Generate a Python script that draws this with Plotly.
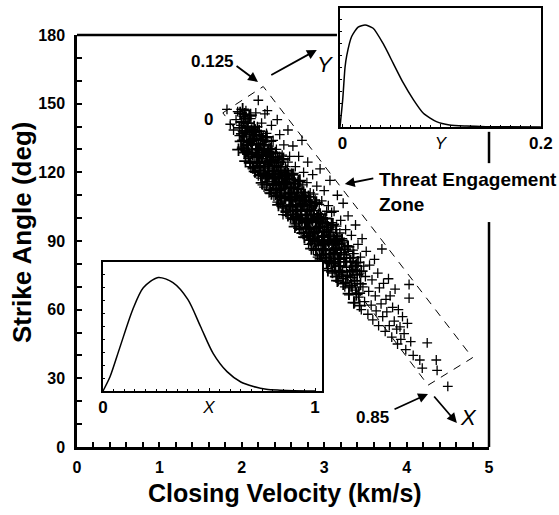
import plotly.graph_objects as go

# ---------------- data ----------------
# individually readable crosses (sparser outer part of the cloud)
closing_velocity = [
    1.82, 1.86, 1.90, 1.93, 1.95, 1.97, 1.99, 2.00, 2.02, 2.03,
    2.05, 2.06, 2.07, 2.08, 2.09, 2.10, 2.11, 2.12, 2.13, 2.14, 2.15, 2.16, 2.17, 2.18, 2.19,
    2.20, 2.20, 2.21, 2.22, 2.23, 2.24, 2.25, 2.25, 2.26, 2.27, 2.28, 2.29, 2.30, 2.31, 2.31, 2.32, 2.33,
    2.34, 2.35, 2.36, 2.37, 2.38, 2.39, 2.40, 2.41, 2.42, 2.43, 2.44, 2.45, 2.46, 2.47, 2.48, 2.49,
    2.50, 2.50, 2.51, 2.52, 2.53, 2.54, 2.55, 2.56, 2.57, 2.58, 2.59, 2.60, 2.61, 2.62, 2.63, 2.64,
    2.65, 2.66, 2.67, 2.68, 2.69, 2.70, 2.71, 2.72, 2.73, 2.74, 2.75, 2.76, 2.77, 2.78, 2.79, 2.80,
    2.81, 2.82, 2.83, 2.84, 2.85, 2.86, 2.87, 2.88, 2.89, 2.90, 2.91, 2.92, 2.93, 2.94, 2.95,
    2.96, 2.97, 2.98, 2.99, 3.00, 3.01, 3.02, 3.03, 3.04, 3.05, 3.06, 3.07, 3.08, 3.09, 3.10,
    3.11, 3.12, 3.13, 3.14, 3.15, 3.16, 3.17, 3.18, 3.19, 3.20, 3.21, 3.22, 3.23, 3.24, 3.25, 3.26, 3.27, 3.28, 3.29,
    3.30, 3.31, 3.32, 3.33, 3.34, 3.35, 3.36, 3.37, 3.38, 3.39, 3.40, 3.41, 3.42, 3.43, 3.44, 3.45, 3.46, 3.47, 3.48, 3.49,
    3.50, 3.51, 3.53, 3.54, 3.55, 3.57, 3.58, 3.59, 3.61, 3.62, 3.63, 3.65, 3.66, 3.67, 3.69, 3.70,
    3.71, 3.72, 3.74, 3.75, 3.76, 3.78, 3.79, 3.80, 3.82, 3.83, 3.85, 3.86, 3.88, 3.89, 3.90, 3.92, 3.93, 3.95,
    3.97, 3.99, 4.01, 4.03, 4.03, 4.05, 4.08, 4.16, 4.19, 4.25, 4.36, 4.37, 4.50,
    2.01, 2.04, 2.06, 2.08, 2.10, 2.11, 2.13, 2.15, 2.16, 2.18, 2.19, 2.21,
    2.22, 2.23, 2.24, 2.26, 2.27, 2.28, 2.30, 2.31, 2.33, 2.34, 2.36, 2.37, 2.38, 2.39,
    2.41, 2.42, 2.43, 2.45, 2.46, 2.47, 2.49, 2.50, 2.52, 2.53, 2.55, 2.56, 2.58, 2.59, 2.61,
    2.62, 2.63, 2.65, 2.66, 2.68, 2.69, 2.70, 2.72, 2.73, 2.74, 2.76, 2.77, 2.79, 2.80,
    2.82, 2.83, 2.85, 2.86, 2.87, 2.89, 2.90, 2.91, 2.93, 2.94, 2.96, 2.97, 2.99,
    3.00, 3.02, 3.03, 3.05, 3.06, 3.08, 3.09, 3.11, 3.13, 3.14, 3.16, 3.18, 3.19,
    3.21, 3.23, 3.24, 3.26, 3.28, 3.29, 3.31, 3.33, 3.35, 3.36, 3.38, 3.40,
]
strike_angle = [
    147.5, 141.0, 138.5, 143.0, 146.5, 136.0, 140.5, 131.0, 144.5, 135.5,
    147.0, 140.0, 128.5, 133.0, 137.5, 124.0, 143.5, 130.0, 121.5, 135.0, 127.0, 139.0, 146.0, 132.5, 124.5,
    151.5, 118.5, 129.5, 136.0, 122.0, 141.5, 126.0, 114.5, 132.0, 119.0, 145.5, 128.0, 137.0, 147.0, 116.0, 123.5, 131.5,
    112.0, 127.0, 140.5, 119.0, 134.0, 109.5, 124.0, 116.0, 130.0, 143.0, 112.5, 121.0, 136.5, 106.5, 118.0, 127.5,
    101.5, 114.0, 132.0, 108.5, 122.5, 104.0, 117.0, 138.5, 111.0, 127.0, 100.0, 119.5, 106.0, 131.5, 113.0, 97.5,
    122.5, 109.0, 101.5, 116.0, 127.0, 95.0, 106.5, 112.5, 134.0, 99.5, 120.0, 91.5, 108.0, 103.0, 115.5, 124.5,
    88.5, 98.0, 111.0, 93.0, 104.5, 119.0, 86.0, 100.5, 108.0, 95.5, 114.0, 83.0, 102.0, 90.0, 121.5,
    97.5, 107.5, 80.5, 92.5, 112.0, 86.0, 100.0, 95.0, 78.0, 105.5, 89.5, 116.5, 83.0, 98.0, 76.0,
    92.0, 103.0, 86.5, 79.5, 96.5, 110.0, 72.5, 88.5, 82.0, 99.0, 75.5, 91.0, 106.5, 84.0, 70.0, 95.0, 78.5, 88.0, 101.0,
    66.5, 82.5, 74.0, 92.5, 69.5, 86.0, 77.5, 63.0, 97.0, 80.0, 71.5, 88.5, 65.5, 76.0, 83.0, 60.0, 91.0, 70.0, 79.0, 63.5,
    74.5, 85.5, 58.0, 68.0, 79.5, 62.0, 73.0, 55.5, 82.0, 66.0, 59.5, 76.0, 53.0, 69.5, 62.5, 86.5,
    57.0, 71.5, 50.5, 64.5, 59.0, 73.5, 53.0, 66.0, 48.0, 61.0, 55.0, 69.0, 51.5, 45.0, 60.0, 52.5, 47.0, 57.0,
    49.5, 42.5, 54.0, 71.0, 65.0, 46.0, 40.0, 38.0, 34.5, 45.5, 38.0, 33.5, 26.5,
    138.0, 129.5, 134.0, 126.0, 138.5, 122.5, 132.5, 136.5, 120.0, 127.5, 140.0, 123.0,
    131.0, 117.5, 127.0, 135.5, 113.5, 124.0, 118.0, 129.0, 111.0, 121.5, 133.5, 114.5, 125.5, 119.5,
    110.0, 122.0, 107.0, 115.5, 127.0, 112.0, 104.5, 120.0, 116.0, 102.5, 110.5, 124.5, 105.5, 114.0, 99.5,
    110.5, 119.5, 103.0, 96.5, 107.5, 112.5, 100.0, 93.5, 105.0, 114.5, 98.0, 110.0, 92.5, 103.5,
    107.0, 95.0, 89.0, 99.0, 110.5, 93.5, 86.5, 101.0, 96.0, 106.0, 88.0, 83.5, 99.5,
    90.5, 84.0, 103.0, 93.0, 81.0, 90.0, 102.5, 85.0, 77.0, 95.0, 83.5, 79.0, 93.5,
    86.0, 73.5, 89.5, 81.0, 74.5, 85.5, 70.0, 79.0, 74.0, 84.5, 68.5, 77.0,
]

# crosses of the nearly solid black core of the cloud (estimated)
core_velocity = [
    1.96, 1.97, 1.98, 1.99, 2.00, 2.01, 2.02, 2.03, 2.04, 2.05, 2.06, 2.07, 2.08, 2.09, 2.10, 2.11, 2.12, 2.13, 2.14, 2.15,
    2.16, 2.17, 2.18, 2.19, 2.20, 2.21, 2.22, 2.23, 2.24, 2.25, 2.26, 2.27, 2.28, 2.29, 2.30, 2.31, 2.32, 2.33, 2.34, 2.35,
    2.36, 2.37, 2.38, 2.39, 2.40, 2.41, 2.42, 2.43, 2.44, 2.45, 2.46, 2.47, 2.48, 2.49, 2.50, 2.51, 2.52, 2.53, 2.54, 2.55,
    2.56, 2.57, 2.58, 2.59, 2.60, 2.61, 2.62, 2.63, 2.64, 2.65, 2.66, 2.67, 2.68, 2.69, 2.70, 2.71, 2.72, 2.73, 2.74, 2.75,
    2.76, 2.77, 2.78, 2.79, 2.80, 2.81, 2.82, 2.83, 2.84, 2.85, 2.86, 2.87, 2.88, 2.89, 2.90, 2.91, 2.92, 2.93, 2.94, 2.95,
    2.96, 2.97, 2.98, 2.99, 3.00, 3.01, 3.02, 3.03, 3.04, 3.05, 3.06, 3.07, 3.08, 3.09, 3.10, 3.11, 3.12, 3.13, 3.14, 3.15,
    3.16, 3.17, 3.18, 3.19, 3.20, 3.21, 3.22, 3.23, 3.24, 3.25, 3.26, 3.27, 3.28, 3.29, 3.30, 3.31, 3.32, 3.33, 3.34, 3.35,
    3.36, 3.37, 3.38, 3.39, 3.40, 3.41, 3.42, 3.43, 3.44, 3.45,
    2.005, 2.015, 2.025, 2.035, 2.045, 2.055, 2.065, 2.075, 2.085, 2.095, 2.105, 2.115, 2.125, 2.135, 2.145, 2.155, 2.165, 2.175, 2.185, 2.195,
    2.205, 2.215, 2.225, 2.235, 2.245, 2.255, 2.265, 2.275, 2.285, 2.295, 2.305, 2.315, 2.325, 2.335, 2.345, 2.355, 2.365, 2.375, 2.385, 2.395,
    2.405, 2.415, 2.425, 2.435, 2.445, 2.455, 2.465, 2.475, 2.485, 2.495, 2.505, 2.515, 2.525, 2.535, 2.545, 2.555, 2.565, 2.575, 2.585, 2.595,
    2.605, 2.615, 2.625, 2.635, 2.645, 2.655, 2.665, 2.675, 2.685, 2.695, 2.705, 2.715, 2.725, 2.735, 2.745, 2.755, 2.765, 2.775, 2.785, 2.795,
    2.805, 2.815, 2.825, 2.835, 2.845, 2.855, 2.865, 2.875, 2.885, 2.895, 2.905, 2.915, 2.925, 2.935, 2.945, 2.955, 2.965, 2.975, 2.985, 2.995,
    3.005, 3.015, 3.025, 3.035, 3.045, 3.055, 3.065, 3.075, 3.085, 3.095, 3.105, 3.115, 3.125, 3.135, 3.145, 3.155, 3.165, 3.175, 3.185, 3.195,
]
core_angle = [
    129.9, 139.4, 145.9, 133.5, 142.0, 147.5, 134.0, 128.6, 138.1, 143.6, 129.1, 139.7, 132.2, 144.7, 124.2, 133.7, 138.3, 127.8, 134.3, 139.8,
    120.4, 129.9, 136.4, 124.0, 132.5, 138.0, 124.5, 119.1, 128.6, 134.1, 119.6, 130.2, 122.7, 135.2, 114.7, 124.2, 128.8, 118.3, 124.8, 130.3,
    110.8, 120.3, 126.8, 114.4, 122.9, 128.4, 114.9, 109.5, 119.0, 124.5, 110.0, 120.6, 113.1, 125.6, 105.1, 114.6, 119.2, 108.7, 115.2, 120.7,
    101.3, 110.8, 117.3, 104.9, 113.4, 118.9, 105.4, 100.0, 109.5, 115.0, 100.5, 111.1, 103.6, 116.1, 95.6, 105.1, 109.7, 99.2, 105.7, 111.2,
    91.7, 101.2, 107.7, 95.3, 103.8, 109.3, 95.8, 90.4, 99.9, 105.4, 90.9, 101.5, 94.0, 106.5, 86.0, 95.5, 100.1, 89.6, 96.1, 101.6,
    82.2, 91.7, 98.2, 85.8, 94.3, 99.8, 86.3, 80.9, 90.4, 95.9, 81.4, 92.0, 84.5, 97.0, 76.5, 86.0, 90.6, 80.1, 86.6, 92.1,
    72.7, 82.2, 88.7, 76.3, 84.8, 90.3, 76.8, 71.4, 80.9, 86.4, 71.9, 82.5, 75.0, 87.5, 67.0, 76.5, 81.1, 70.6, 77.1, 82.6,
    63.1, 72.6, 79.1, 66.7, 75.2, 80.7, 67.2, 61.8, 71.3, 76.8,
    136.8, 130.3, 141.8, 145.4, 124.9, 137.4, 131.9, 141.5, 128.0, 136.5, 145.0, 128.6, 132.1, 137.6, 122.1, 134.6, 138.2, 124.7, 130.2, 126.7,
    127.3, 120.8, 132.3, 135.9, 115.4, 127.9, 122.4, 132.0, 118.5, 127.0, 135.5, 119.1, 122.6, 128.1, 112.6, 125.1, 128.7, 115.2, 120.7, 117.2,
    117.7, 111.2, 122.7, 126.3, 105.8, 118.3, 112.8, 122.4, 108.9, 117.4, 125.9, 109.5, 113.0, 118.5, 103.0, 115.5, 119.1, 105.6, 111.1, 107.6,
    108.2, 101.7, 113.2, 116.8, 96.3, 108.8, 103.3, 112.9, 99.4, 107.9, 116.4, 100.0, 103.5, 109.0, 93.5, 106.0, 109.6, 96.1, 101.6, 98.1,
    98.6, 92.1, 103.6, 107.2, 86.7, 99.2, 93.7, 103.3, 89.8, 98.3, 106.8, 90.4, 93.9, 99.4, 83.9, 96.4, 100.0, 86.5, 92.0, 88.5,
    89.1, 82.6, 94.1, 97.7, 77.2, 89.7, 84.2, 93.8, 80.3, 88.8, 97.3, 80.9, 84.4, 89.9, 74.4, 86.9, 90.5, 77.0, 82.5, 79.0,
]

# Threat engagement zone corners (velocity, angle)
zone_velocity = [1.77, 2.26, 4.80, 4.26, 1.77]
zone_angle = [146.0, 157.5, 39.0, 27.0, 146.0]

# inset distributions
pdf_x = [0, 0.033, 0.08, 0.14, 0.19, 0.26, 0.33, 0.40, 0.46, 0.52, 0.585, 0.65, 0.71, 0.77, 0.835, 0.90, 1.0]
pdf_x_density = [0, 0.11, 0.34, 0.63, 0.80, 0.88, 0.84, 0.71, 0.50, 0.29, 0.15, 0.07, 0.035, 0.013, 0.006, 0.002, 0]
pdf_y = [0.0, 0.0027, 0.005, 0.0067, 0.0116, 0.018, 0.025, 0.033, 0.043, 0.053, 0.063, 0.073, 0.083, 0.096, 0.109, 0.126, 0.145, 0.2]
pdf_y_density = [0.0, 0.23, 0.5, 0.6, 0.76, 0.84, 0.857, 0.83, 0.70, 0.535, 0.37, 0.23, 0.115, 0.045, 0.017, 0.008, 0.003, 0.0]

x_ticks = [0, 1, 2, 3, 4, 5]
y_ticks = [0, 30, 60, 90, 120, 150, 180]
inset_x_ticks = [0, 0.5, 1]
inset_x_text = ['<b>0</b>', '<i>X</i>', '<b>1</b>']
inset_y_ticks = [0.0025, 0.1, 0.2]
inset_y_text = ['<b>0</b>', '<i>Y</i>', '<b>0.2</b>']

FONT = 'Arial, Liberation Sans, sans-serif'

fig = go.Figure()
fig.add_trace(go.Scatter(x=zone_velocity, y=zone_angle, mode='lines',
                         line=dict(color='black', width=1, dash='8px,7px'),
                         hoverinfo='skip', xaxis='x', yaxis='y'))
fig.add_trace(go.Scatter(x=closing_velocity, y=strike_angle, mode='markers',
                         marker=dict(symbol='cross-thin', size=7, line=dict(color='black', width=1.3)),
                         hoverinfo='skip', xaxis='x', yaxis='y'))
fig.add_trace(go.Scatter(x=core_velocity, y=core_angle, mode='markers',
                         marker=dict(symbol='cross-thin', size=9, line=dict(color='black', width=1.8)),
                         hoverinfo='skip', xaxis='x', yaxis='y'))
fig.add_trace(go.Scatter(x=pdf_x, y=pdf_x_density, mode='lines',
                         line=dict(color='black', width=1.5, shape='spline', smoothing=0.8),
                         hoverinfo='skip', xaxis='x2', yaxis='y2'))
fig.add_trace(go.Scatter(x=pdf_y, y=pdf_y_density, mode='lines',
                         line=dict(color='black', width=1.5, shape='spline', smoothing=0.6),
                         hoverinfo='skip', xaxis='x3', yaxis='y3'))

main_tickfont = dict(family=FONT, size=16, color='black', weight='bold')
inset_tickfont = dict(family=FONT, size=17, color='black')

common = dict(showgrid=False, zeroline=False, automargin=False)

fig.update_layout(
    template='none',
    width=559, height=515,
    margin=dict(l=77, r=10, t=5, b=68, autoexpand=False),
    paper_bgcolor='white', plot_bgcolor='white',
    showlegend=False, hovermode=False,
    font=dict(family=FONT, color='black'),
    xaxis=dict(domain=[0, 0.8729], range=[0, 5], anchor='y',
               tickvals=x_ticks, ticks='inside', ticklen=5, tickwidth=1.5, tickcolor='black',
               minor=dict(dtick=0.2, ticks='inside', ticklen=5, tickwidth=1.5, tickcolor='black'),
               showline=True, linewidth=2.5, linecolor='black', mirror=False,
               tickfont=main_tickfont, ticklabelstandoff=4, **common),
    yaxis=dict(domain=[0, 0.9321], range=[0, 180], anchor='x',
               tickvals=y_ticks, ticks='inside', ticklen=5, tickwidth=1.5, tickcolor='black',
               minor=dict(dtick=10, ticks='inside', ticklen=5, tickwidth=1.5, tickcolor='black'),
               showline=True, linewidth=2.5, linecolor='black', mirror=False,
               tickfont=main_tickfont, ticklabelstandoff=6, **common),
    xaxis2=dict(domain=[0.0551, 0.5191], range=[0, 1.033], anchor='y2',
                tickvals=inset_x_ticks, ticktext=inset_x_text,
                ticks='inside', ticklen=3, tickwidth=1, tickcolor='black',
                minor=dict(dtick=0.05, ticks='inside', ticklen=2, tickwidth=1, tickcolor='black'),
                showline=True, linewidth=1.5, linecolor='black', mirror=True,
                tickfont=inset_tickfont, ticklabelstandoff=0, **common),
    yaxis2=dict(domain=[0.1267, 0.4186], range=[0, 1], anchor='x2',
                dtick=0.1, ticks='inside', ticklen=2, tickwidth=1, tickcolor='black',
                showticklabels=False,
                showline=True, linewidth=1.5, linecolor='black', mirror=True, **common),
    xaxis3=dict(domain=[0.5572, 0.9831], range=[0, 0.2001], anchor='y3',
                tickvals=inset_y_ticks, ticktext=inset_y_text,
                ticks='inside', ticklen=3, tickwidth=1, tickcolor='black',
                minor=dict(dtick=0.01, ticks='inside', ticklen=2, tickwidth=1, tickcolor='black'),
                showline=True, linewidth=1.5, linecolor='black', mirror=True,
                tickfont=inset_tickfont, ticklabelstandoff=0, **common),
    yaxis3=dict(domain=[0.724, 0.9932], range=[0, 1], anchor='x3',
                dtick=0.1, ticks='inside', ticklen=2, tickwidth=1, tickcolor='black',
                showticklabels=False,
                showline=True, linewidth=1.5, linecolor='black', mirror=True, **common),
)

# partial top / right frame lines of the main plot
frame = dict(color='black', width=2.5)
fig.add_shape(type='line', xref='x domain', yref='y domain', x0=0, x1=0.631, y0=1, y1=1, line=frame)
fig.add_shape(type='line', xref='x domain', yref='y domain', x0=1, x1=1, y0=0, y1=0.546, line=frame)
fig.add_shape(type='line', xref='x domain', yref='y domain', x0=1, x1=1, y0=0.689, y1=0.765, line=frame)

bold16 = dict(family=FONT, size=17, color='black', weight='bold')
ital = dict(family=FONT, size=22, color='black')

# arrows (tip in data coords, tail as pixel offset)
arrow = dict(showarrow=True, arrowhead=2, arrowsize=1.1, arrowwidth=1.8, arrowcolor='black',
             text='', xref='x', yref='y')
fig.add_annotation(x=2.197, y=159.5, ax=-23, ay=-17, **arrow)
fig.add_annotation(x=2.91, y=173.5, ax=-47, ay=26, **arrow)
fig.add_annotation(x=3.25, y=114.9, ax=30, ay=-6, **arrow)
fig.add_annotation(x=4.26, y=23.2, ax=-35, ay=16, **arrow)
fig.add_annotation(x=4.61, y=10.5, ax=-24, ay=-28, **arrow)

# labels
fig.add_annotation(x=1.65, y=168.6, text='0.125', showarrow=False, font=bold16, xref='x', yref='y')
fig.add_annotation(x=1.59, y=142.9, text='0', showarrow=False, font=bold16, xref='x', yref='y')
fig.add_annotation(x=3.59, y=13.1, text='0.85', showarrow=False, font=bold16, xref='x', yref='y')
fig.add_annotation(x=3.01, y=167.3, text='<i>Y</i>', showarrow=False, font=ital, xref='x', yref='y')
fig.add_annotation(x=4.75, y=12.7, text='<i>X</i>', showarrow=False, font=ital, xref='x', yref='y')
fig.add_annotation(x=3.64, y=111.2, text='Threat Engagement<br>Zone', showarrow=False,
                   xanchor='left', yanchor='middle', align='left',
                   font=dict(family=FONT, size=19, color='black', weight='bold'), xref='x', yref='y')

# axis titles
fig.add_annotation(x=0.4407, y=-0.104, xref='paper', yref='paper', text='Closing Velocity (km/s)',
                   xanchor='center', yanchor='middle', showarrow=False,
                   font=dict(family=FONT, size=25, color='black', weight='bold'))
fig.add_annotation(x=-0.1165, y=0.4864, xref='paper', yref='paper', text='Strike Angle (deg)',
                   xanchor='center', yanchor='middle', textangle=-90, showarrow=False,
                   font=dict(family=FONT, size=26, color='black', weight='bold'))

fig.write_html('out.html', config={'displayModeBar': False},
               post_script="document.body.style.margin='0';document.body.style.padding='0';")
